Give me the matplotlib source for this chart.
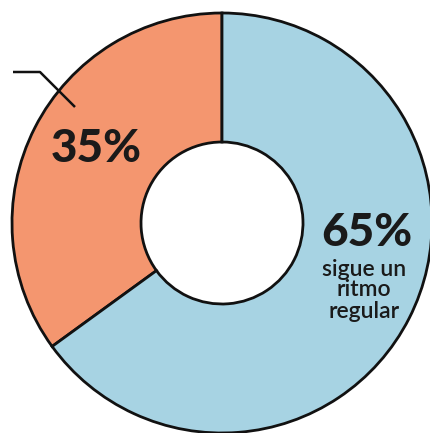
import matplotlib
matplotlib.use("Agg")
import matplotlib.pyplot as plt

# slice data
labels = ["35%", "65%"]
values = [35, 65]
colors = ["#F4966F", "#A7D3E3"]
sub_label = "sigue un\nritmo\nregular"

W, H = 431, 433
fig = plt.figure(figsize=(W / 100, H / 100), dpi=100)
ax = fig.add_axes([0, 0, 1, 1])

cx, cy = 222, H - 223
r_out, r_in = 210, 81

ax.pie(values, colors=colors, startangle=90, counterclock=True,
       radius=r_out, center=(cx, cy), frame=True,
       wedgeprops=dict(width=r_out - r_in, edgecolor="#111111", linewidth=2))
ax.set_xlim(0, W)
ax.set_ylim(0, H)
ax.set_aspect("equal")
ax.axis("off")

# leader line at upper left
ax.plot([13, 40, 75], [H - 72, H - 72, H - 107], color="#111111", lw=1.8,
        solid_capstyle="butt")

ax.text(96, H - 149, labels[0], ha="center", va="center", fontsize=33,
        fontweight="black", family="Lato", color="#1a1a1a")
ax.text(367, H - 233, labels[1], ha="center", va="center", fontsize=33,
        fontweight="black", family="Lato", color="#1a1a1a")
ax.text(364, H - 290, sub_label, ha="center", va="center", fontsize=16.5,
        fontweight="semibold", family="Lato", color="#1a1a1a", linespacing=1.0)

fig.savefig("out.png", dpi=100)
